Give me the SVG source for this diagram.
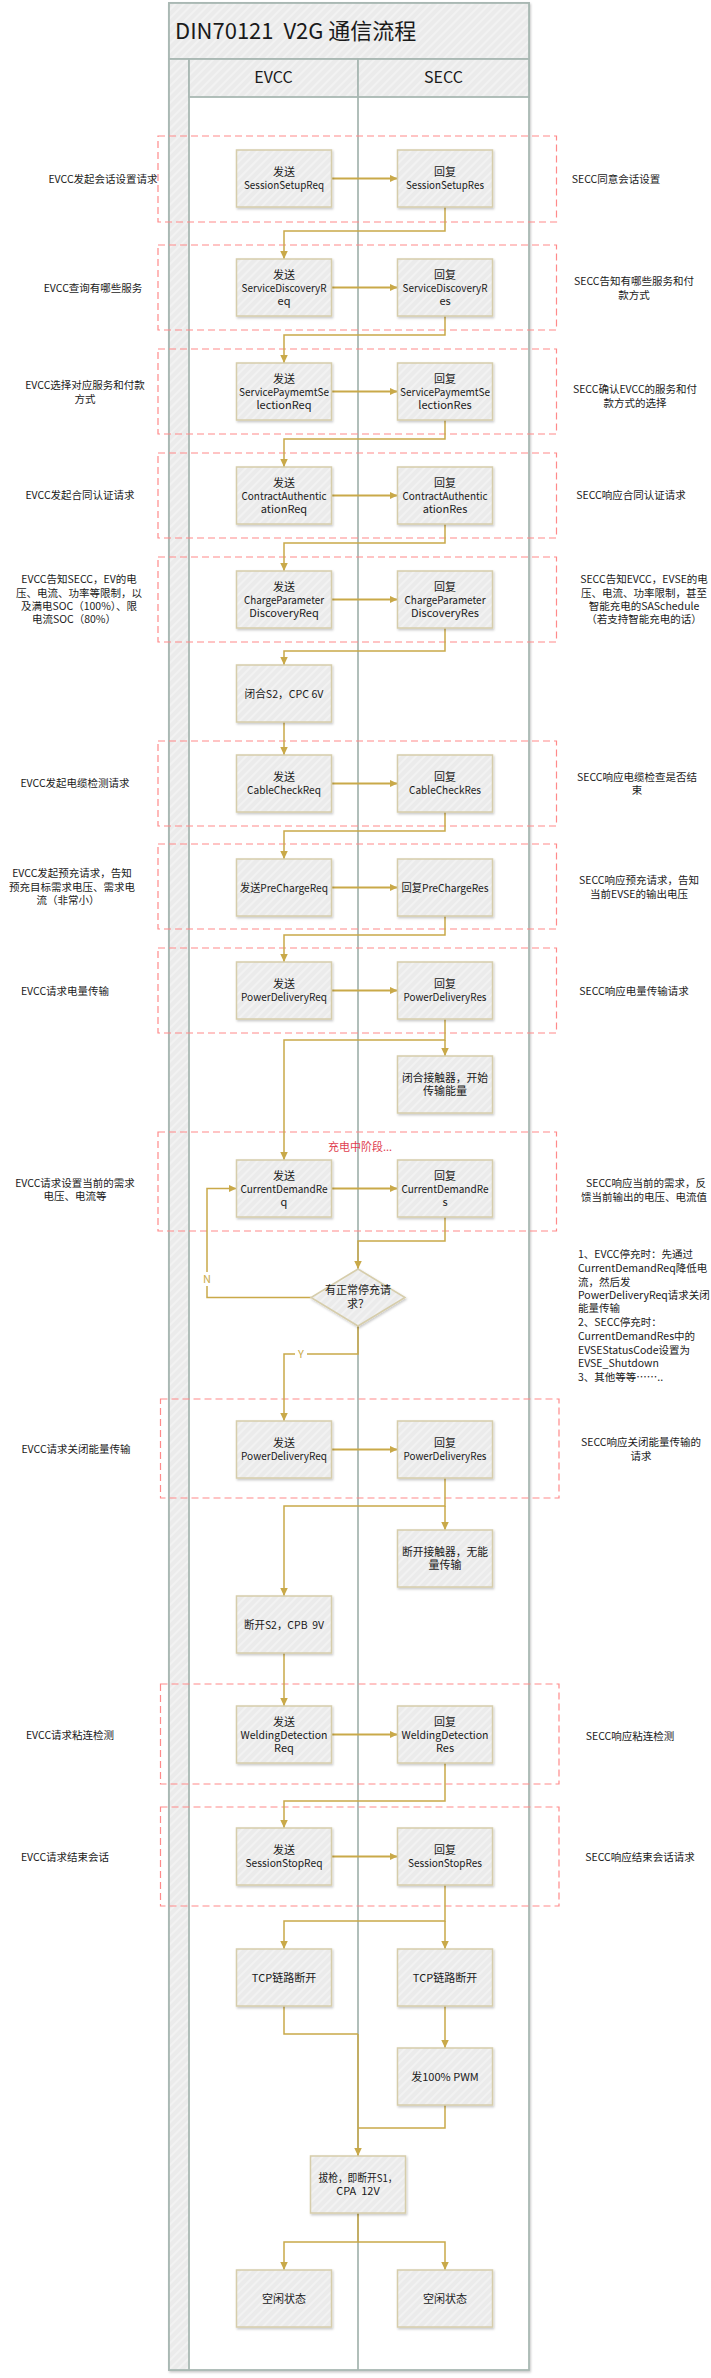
<svg xmlns="http://www.w3.org/2000/svg" width="711" height="2378" viewBox="0 0 711 2378">
<defs>
<pattern id="hatch" width="6" height="6" patternUnits="userSpaceOnUse" patternTransform="rotate(45)">
<rect width="6" height="6" fill="#ebebeb"/>
<rect width="2" height="6" fill="#f2f2f2"/>
</pattern>
<filter id="sh" x="-10%" y="-10%" width="125%" height="125%">
<feDropShadow dx="1" dy="1.5" stdDeviation="1" flood-color="#000" flood-opacity="0.22"/>
</filter>
<marker id="ar" markerWidth="9" markerHeight="8" refX="8" refY="3.75" orient="auto" markerUnits="userSpaceOnUse">
<path d="M0,0 L8,3.75 L0,7.5 z" fill="#c9a949"/>
</marker>
</defs>
<style>
text{font-family:"Noto Sans CJK SC","Liberation Sans",sans-serif;fill:#1a1a1a}
.bx{fill:url(#hatch);stroke:#d6cdab;stroke-width:1.5;filter:url(#sh)}
.bt{font-size:11px;text-anchor:middle}
.lb{font-size:10.5px;text-anchor:middle}
.nt{font-size:10.5px}
.dz{fill:none;stroke:#ff8a8a;stroke-width:1.2;stroke-dasharray:7,4}
.c{fill:none;stroke:#c9a949;stroke-width:1.5}
.h{fill:none;stroke:#c9a949;stroke-width:2}
.a{marker-end:url(#ar)}
.pl{stroke:#a9b8b3;stroke-width:1.8}
</style>
<rect width="711" height="2378" fill="#fff"/>

<g id="pool">
<rect x="169" y="3" width="360" height="2367" fill="#fff" class="pl" filter="url(#sh)"/>
<rect x="169" y="3" width="360" height="56" fill="url(#hatch)" class="pl"/>
<rect x="169" y="59" width="20" height="2311" fill="url(#hatch)" class="pl"/>
<rect x="189" y="59" width="169" height="38" fill="url(#hatch)" class="pl"/>
<rect x="358" y="59" width="171" height="38" fill="url(#hatch)" class="pl"/>
<line x1="358" y1="97" x2="358" y2="2370" class="pl"/>
<text x="175" y="39" style="font-size:22px;white-space:pre">DIN70121  V2G 通信流程</text>
<text x="273.5" y="83" style="font-size:16px;text-anchor:middle">EVCC</text>
<text x="443.5" y="83" style="font-size:16px;text-anchor:middle">SECC</text>
</g>

<g id="zones">
<rect x="158" y="136" width="398.5" height="86" class="dz"/>
<rect x="158" y="245" width="398.5" height="85" class="dz"/>
<rect x="158" y="349" width="398.5" height="85" class="dz"/>
<rect x="158" y="453" width="398.5" height="85" class="dz"/>
<rect x="158" y="557" width="398.5" height="85" class="dz"/>
<rect x="158" y="741" width="398.5" height="85" class="dz"/>
<rect x="158" y="844" width="398.5" height="85" class="dz"/>
<rect x="158" y="948" width="398.5" height="85" class="dz"/>
<rect x="158" y="1132" width="398.5" height="99" class="dz"/>
<rect x="160.5" y="1399" width="398.5" height="99" class="dz"/>
<rect x="160.5" y="1684" width="398.5" height="100" class="dz"/>
<rect x="160.5" y="1807" width="398.5" height="99" class="dz"/>
<text x="360" y="1151" style="font-size:11px;text-anchor:middle;fill:#e0404f">充电中阶段...</text>
</g>

<g id="connectors">
<path class="h a" d="M331.5,178.5 H397.5"/>
<path class="c a" d="M445,207 V231 H284 V259"/>
<path class="h a" d="M331.5,287.5 H397.5"/>
<path class="c a" d="M445,316 V335 H284 V363"/>
<path class="h a" d="M331.5,391.5 H397.5"/>
<path class="c a" d="M445,420 V439 H284 V467"/>
<path class="h a" d="M331.5,495.5 H397.5"/>
<path class="c a" d="M445,524 V543 H284 V571"/>
<path class="h a" d="M331.5,599.5 H397.5"/>
<path class="c a" d="M445,628 V651 H284 V665"/>
<path class="c a" d="M284,722 V755"/>
<path class="h a" d="M331.5,783.5 H397.5"/>
<path class="c a" d="M445,812 V831 H284 V859"/>
<path class="h a" d="M331.5,887.5 H397.5"/>
<path class="c a" d="M445,916 V935 H284 V962"/>
<path class="h a" d="M331.5,990.5 H397.5"/>
<path class="c a" d="M445,1019 V1040 H284 V1160"/>
<path class="c a" d="M445,1040 V1056"/>
<path class="h a" d="M331.5,1188.5 H397.5"/>
<path class="c a" d="M445,1217 V1241 H358 V1269"/>
<path class="c a" d="M311,1297.5 H207 V1188.5 H236.5"/>
<path class="c a" d="M358,1326 V1354 H284 V1421"/>
<path class="h a" d="M331.5,1449.5 H397.5"/>
<path class="c a" d="M445,1478 V1506 H284 V1596"/>
<path class="c a" d="M445,1506 V1530"/>
<path class="c a" d="M284,1653 V1706"/>
<path class="h a" d="M331.5,1734.5 H397.5"/>
<path class="c a" d="M445,1763 V1801 H284 V1828"/>
<path class="h a" d="M331.5,1856.5 H397.5"/>
<path class="c a" d="M445,1885 V1921 H284 V1949"/>
<path class="c a" d="M445,1921 V1949"/>
<path class="c" d="M284,2006 V2034 H358"/>
<path class="c a" d="M445,2006 V2048"/>
<path class="c" d="M445,2105 V2128 H358"/>
<path class="c a" d="M358,2034 V2156"/>
<path class="c a" d="M358,2213 V2242 H284 V2270"/>
<path class="c a" d="M358,2242 H445 V2270"/>
<rect x="201" y="1272" width="12" height="14" fill="#fff"/>
<text x="207" y="1283" style="font-size:11px;text-anchor:middle;fill:#c9a949">N</text>
<rect x="295" y="1347" width="12" height="14" fill="#fff"/>
<text x="301" y="1358" style="font-size:11px;text-anchor:middle;fill:#c9a949">Y</text>
</g>

<g id="n1"><rect x="236.5" y="150" width="95" height="57" class="bx"/><text class="bt" x="284" y="176">发送</text><text class="bt" x="284" y="189" textLength="80" lengthAdjust="spacingAndGlyphs">SessionSetupReq</text></g>
<g id="n1r"><rect x="397.5" y="150" width="95" height="57" class="bx"/><text class="bt" x="445" y="176">回复</text><text class="bt" x="445" y="189" textLength="78" lengthAdjust="spacingAndGlyphs">SessionSetupRes</text></g>

<g id="n2"><rect x="236.5" y="259" width="95" height="57" class="bx"/><text class="bt" x="284" y="278.5">发送</text><text class="bt" x="284" y="291.5" textLength="85" lengthAdjust="spacingAndGlyphs">ServiceDiscoveryR</text><text class="bt" x="284" y="304.5">eq</text></g>
<g id="n2r"><rect x="397.5" y="259" width="95" height="57" class="bx"/><text class="bt" x="445" y="278.5">回复</text><text class="bt" x="445" y="291.5" textLength="85" lengthAdjust="spacingAndGlyphs">ServiceDiscoveryR</text><text class="bt" x="445" y="304.5">es</text></g>

<g id="n3"><rect x="236.5" y="363" width="95" height="57" class="bx"/><text class="bt" x="284" y="382.5">发送</text><text class="bt" x="284" y="395.5" textLength="90" lengthAdjust="spacingAndGlyphs">ServicePaymemtSe</text><text class="bt" x="284" y="408.5">lectionReq</text></g>
<g id="n3r"><rect x="397.5" y="363" width="95" height="57" class="bx"/><text class="bt" x="445" y="382.5">回复</text><text class="bt" x="445" y="395.5" textLength="90" lengthAdjust="spacingAndGlyphs">ServicePaymemtSe</text><text class="bt" x="445" y="408.5">lectionRes</text></g>

<g id="n4"><rect x="236.5" y="467" width="95" height="57" class="bx"/><text class="bt" x="284" y="486.5">发送</text><text class="bt" x="284" y="499.5" textLength="85" lengthAdjust="spacingAndGlyphs">ContractAuthentic</text><text class="bt" x="284" y="512.5">ationReq</text></g>
<g id="n4r"><rect x="397.5" y="467" width="95" height="57" class="bx"/><text class="bt" x="445" y="486.5">回复</text><text class="bt" x="445" y="499.5" textLength="85" lengthAdjust="spacingAndGlyphs">ContractAuthentic</text><text class="bt" x="445" y="512.5">ationRes</text></g>

<g id="n5"><rect x="236.5" y="571" width="95" height="57" class="bx"/><text class="bt" x="284" y="590.5">发送</text><text class="bt" x="284" y="603.5" textLength="80" lengthAdjust="spacingAndGlyphs">ChargeParameter</text><text class="bt" x="284" y="616.5">DiscoveryReq</text></g>
<g id="n5r"><rect x="397.5" y="571" width="95" height="57" class="bx"/><text class="bt" x="445" y="590.5">回复</text><text class="bt" x="445" y="603.5" textLength="81" lengthAdjust="spacingAndGlyphs">ChargeParameter</text><text class="bt" x="445" y="616.5">DiscoveryRes</text></g>

<g id="n6"><rect x="236.5" y="665" width="95" height="57" class="bx"/><text class="bt" x="284" y="697.5" textLength="79" lengthAdjust="spacingAndGlyphs">闭合S2，CPC 6V</text></g>

<g id="n7"><rect x="236.5" y="755" width="95" height="57" class="bx"/><text class="bt" x="284" y="781">发送</text><text class="bt" x="284" y="794" textLength="74" lengthAdjust="spacingAndGlyphs">CableCheckReq</text></g>
<g id="n7r"><rect x="397.5" y="755" width="95" height="57" class="bx"/><text class="bt" x="445" y="781">回复</text><text class="bt" x="445" y="794" textLength="72" lengthAdjust="spacingAndGlyphs">CableCheckRes</text></g>

<g id="n8"><rect x="236.5" y="859" width="95" height="57" class="bx"/><text class="bt" x="284" y="891.5" textLength="88" lengthAdjust="spacingAndGlyphs">发送PreChargeReq</text></g>
<g id="n8r"><rect x="397.5" y="859" width="95" height="57" class="bx"/><text class="bt" x="445" y="891.5" textLength="87" lengthAdjust="spacingAndGlyphs">回复PreChargeRes</text></g>

<g id="n9"><rect x="236.5" y="962" width="95" height="57" class="bx"/><text class="bt" x="284" y="988">发送</text><text class="bt" x="284" y="1001" textLength="86" lengthAdjust="spacingAndGlyphs">PowerDeliveryReq</text></g>
<g id="n9r"><rect x="397.5" y="962" width="95" height="57" class="bx"/><text class="bt" x="445" y="988">回复</text><text class="bt" x="445" y="1001" textLength="83" lengthAdjust="spacingAndGlyphs">PowerDeliveryRes</text></g>

<g id="n10"><rect x="397.5" y="1056" width="95" height="57" class="bx"/><text class="bt" x="445" y="1082" textLength="86" lengthAdjust="spacingAndGlyphs">闭合接触器，开始</text><text class="bt" x="445" y="1095">传输能量</text></g>

<g id="n11"><rect x="236.5" y="1160" width="95" height="57" class="bx"/><text class="bt" x="284" y="1179.5">发送</text><text class="bt" x="284" y="1192.5" textLength="87" lengthAdjust="spacingAndGlyphs">CurrentDemandRe</text><text class="bt" x="284" y="1205.5">q</text></g>
<g id="n11r"><rect x="397.5" y="1160" width="95" height="57" class="bx"/><text class="bt" x="445" y="1179.5">回复</text><text class="bt" x="445" y="1192.5" textLength="87" lengthAdjust="spacingAndGlyphs">CurrentDemandRe</text><text class="bt" x="445" y="1205.5">s</text></g>

<g id="d1"><polygon points="358,1269 405,1297.5 358,1326 311,1297.5" class="bx"/><text class="bt" x="358" y="1294">有正常停充请</text><text class="bt" x="358" y="1308">求？</text></g>

<g id="n12"><rect x="236.5" y="1421" width="95" height="57" class="bx"/><text class="bt" x="284" y="1447">发送</text><text class="bt" x="284" y="1460" textLength="86" lengthAdjust="spacingAndGlyphs">PowerDeliveryReq</text></g>
<g id="n12r"><rect x="397.5" y="1421" width="95" height="57" class="bx"/><text class="bt" x="445" y="1447">回复</text><text class="bt" x="445" y="1460" textLength="83" lengthAdjust="spacingAndGlyphs">PowerDeliveryRes</text></g>

<g id="n13"><rect x="397.5" y="1530" width="95" height="57" class="bx"/><text class="bt" x="445" y="1556" textLength="86" lengthAdjust="spacingAndGlyphs">断开接触器，无能</text><text class="bt" x="445" y="1569">量传输</text></g>

<g id="n14"><rect x="236.5" y="1596" width="95" height="57" class="bx"/><text class="bt" x="284" y="1628.5" style="white-space:pre" textLength="80" lengthAdjust="spacingAndGlyphs">断开S2，CPB  9V</text></g>

<g id="n15"><rect x="236.5" y="1706" width="95" height="57" class="bx"/><text class="bt" x="284" y="1725.5">发送</text><text class="bt" x="284" y="1738.5" textLength="87" lengthAdjust="spacingAndGlyphs">WeldingDetection</text><text class="bt" x="284" y="1751.5">Req</text></g>
<g id="n15r"><rect x="397.5" y="1706" width="95" height="57" class="bx"/><text class="bt" x="445" y="1725.5">回复</text><text class="bt" x="445" y="1738.5" textLength="87" lengthAdjust="spacingAndGlyphs">WeldingDetection</text><text class="bt" x="445" y="1751.5">Res</text></g>

<g id="n16"><rect x="236.5" y="1828" width="95" height="57" class="bx"/><text class="bt" x="284" y="1854">发送</text><text class="bt" x="284" y="1867" textLength="77" lengthAdjust="spacingAndGlyphs">SessionStopReq</text></g>
<g id="n16r"><rect x="397.5" y="1828" width="95" height="57" class="bx"/><text class="bt" x="445" y="1854">回复</text><text class="bt" x="445" y="1867" textLength="74" lengthAdjust="spacingAndGlyphs">SessionStopRes</text></g>

<g id="n17"><rect x="236.5" y="1949" width="95" height="57" class="bx"/><text class="bt" x="284" y="1981.5">TCP链路断开</text></g>
<g id="n18"><rect x="397.5" y="1949" width="95" height="57" class="bx"/><text class="bt" x="445" y="1981.5">TCP链路断开</text></g>
<g id="n19"><rect x="397.5" y="2048" width="95" height="57" class="bx"/><text class="bt" x="445" y="2080.5">发100% PWM</text></g>
<g id="n20"><rect x="310.5" y="2156" width="95" height="57" class="bx"/><text class="bt" x="358" y="2182" textLength="79" lengthAdjust="spacingAndGlyphs">拔枪，即断开S1，</text><text class="bt" x="358" y="2195" style="white-space:pre">CPA  12V</text></g>
<g id="n21"><rect x="236.5" y="2270" width="95" height="57" class="bx"/><text class="bt" x="284" y="2302.5">空闲状态</text></g>
<g id="n22"><rect x="397.5" y="2270" width="95" height="57" class="bx"/><text class="bt" x="445" y="2302.5">空闲状态</text></g>

<g id="labels-left">
<text class="lb" x="103" y="183">EVCC发起会话设置请求</text>
<text class="lb" x="93" y="292">EVCC查询有哪些服务</text>
<text class="lb" x="85" y="389">EVCC选择对应服务和付款</text><text class="lb" x="85" y="403">方式</text>
<text class="lb" x="80" y="499">EVCC发起合同认证请求</text>
<text class="lb" x="79" y="583">EVCC告知SECC，EV的电</text><text class="lb" x="79" y="597">压、电流、功率等限制，以</text><text class="lb" x="79" y="610">及满电SOC（100%）、限</text><text class="lb" x="74" y="623">电流SOC（80%）</text>
<text class="lb" x="75" y="787">EVCC发起电缆检测请求</text>
<text class="lb" x="72" y="877">EVCC发起预充请求，告知</text><text class="lb" x="72" y="891">预充目标需求电压、需求电</text><text class="lb" x="68" y="904">流（非常小）</text>
<text class="lb" x="65" y="995">EVCC请求电量传输</text>
<text class="lb" x="75" y="1187">EVCC请求设置当前的需求</text><text class="lb" x="75" y="1200">电压、电流等</text>
<text class="lb" x="76" y="1453">EVCC请求关闭能量传输</text>
<text class="lb" x="70" y="1739">EVCC请求粘连检测</text>
<text class="lb" x="65" y="1861">EVCC请求结束会话</text>
</g>

<g id="labels-right">
<text class="lb" x="616" y="183">SECC同意会话设置</text>
<text class="lb" x="634" y="285">SECC告知有哪些服务和付</text><text class="lb" x="634" y="299">款方式</text>
<text class="lb" x="635" y="393">SECC确认EVCC的服务和付</text><text class="lb" x="635" y="407">款方式的选择</text>
<text class="lb" x="631" y="499">SECC响应合同认证请求</text>
<text class="lb" x="644" y="583">SECC告知EVCC，EVSE的电</text><text class="lb" x="644" y="597">压、电流、功率限制，甚至</text><text class="lb" x="644" y="610">智能充电的SASchedule</text><text class="lb" x="644" y="623">（若支持智能充电的话）</text>
<text class="lb" x="637" y="781">SECC响应电缆检查是否结</text><text class="lb" x="637" y="794">束</text>
<text class="lb" x="639" y="884">SECC响应预充请求，告知</text><text class="lb" x="639" y="898">当前EVSE的输出电压</text>
<text class="lb" x="634" y="995">SECC响应电量传输请求</text>
<text class="lb" x="646" y="1187">SECC响应当前的需求，反</text><text class="lb" x="644" y="1201">馈当前输出的电压、电流值</text>
<text class="lb" x="641" y="1446">SECC响应关闭能量传输的</text><text class="lb" x="641" y="1460">请求</text>
<text class="lb" x="630" y="1740">SECC响应粘连检测</text>
<text class="lb" x="640" y="1861">SECC响应结束会话请求</text>
</g>

<g id="note">
<text class="nt" x="578" y="1258">1、EVCC停充时：先通过</text>
<text class="nt" x="578" y="1272">CurrentDemandReq降低电</text>
<text class="nt" x="578" y="1286">流，然后发</text>
<text class="nt" x="578" y="1299">PowerDeliveryReq请求关闭</text>
<text class="nt" x="578" y="1312">能量传输</text>
<text class="nt" x="578" y="1326">2、SECC停充时：</text>
<text class="nt" x="578" y="1340">CurrentDemandRes中的</text>
<text class="nt" x="578" y="1354">EVSEStatusCode设置为</text>
<text class="nt" x="578" y="1367">EVSE_Shutdown</text>
<text class="nt" x="578" y="1381">3、其他等等……..</text>
</g>
</svg>
